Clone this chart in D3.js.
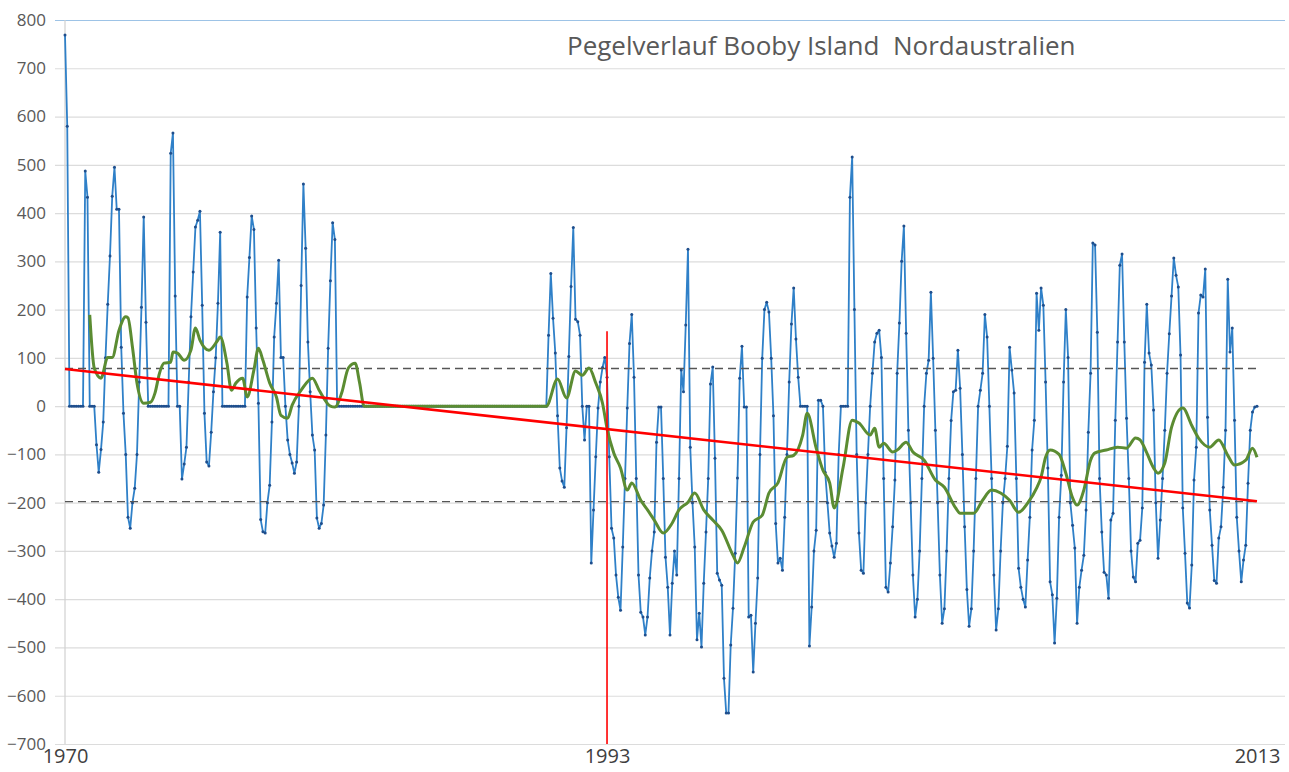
<!DOCTYPE html>
<html>
<head>
<meta charset="utf-8">
<script src="https://cdnjs.cloudflare.com/ajax/libs/d3/7.8.5/d3.min.js"></script>
<style>
  body { margin: 0; background: #fff; }
  svg text { font-family: "Open Sans", "DejaVu Sans", sans-serif; }
</style>
</head>
<body>
<div id="chart"></div>
<script>
// monthly gauge values (mm), one entry per month
// first block: 1970 series start
var leftMonths = [
  769,580,0,0,0,0,0,0,0,487,433,0,
  0,0,-80,-137,-90,-33,100,211,311,435,495,408,
  408,122,-15,-100,-230,-253,-200,-170,-100,50,205,392,
  174,0,0,0,0,0,0,0,0,0,0,524,
  566,228,0,0,-151,-120,-85,50,185,278,371,385,
  404,209,-15,-116,-124,-54,30,100,213,360,0,0,
  0,0,0,0,0,0,0,0,0,226,308,394,
  366,162,6,-235,-260,-263,-200,-164,-33,143,213,302,
  101,101,0,-70,-100,-118,-139,-116,0,250,460,327,
  133,30,-60,-91,-232,-253,-243,-205,-60,120,260,380,
  345,0
];

// no readings -> plotted as 0 by the source sheet
var gapMonths = [
  0,0,0,0,0,0,0,0,0,0,0,0,
  0,0,0,0,0,0,0,0,0,0,0,0,
  0,0,0,0,0,0,0,0,0,0,0,0,
  0,0,0,0,0,0,0,0,0,0,0,0,
  0,0,0,0,0,0,0,0,0,0,0,0,
  0,0,0,0,0,0,0,0,0,0,0,0,
  0,0,0,0,0,0,0,0,0,0,0,0,
  0,0,0,0,0,0,0,0
];

// second block: up to 2013
var rightMonths = [
  0,147,275,182,110,-20,-128,-155,-168,-45,103,248,
  370,180,175,147,0,-70,0,0,-325,-215,-105,-4,
  50,80,101,60,-105,-253,-273,-350,-396,-423,-292,-150,
  -4,130,190,60,-150,-350,-427,-437,-474,-437,-356,-300,
  -261,-75,-2,-2,-150,-313,-375,-474,-367,-300,-350,-150,
  75,30,168,325,-85,-200,-292,-484,-429,-499,-367,-261,
  -150,46,81,-108,-346,-360,-371,-564,-636,-636,-495,-419,
  -305,-149,58,124,-2,-2,-437,-433,-551,-450,-356,-100,
  99,200,215,195,99,-20,-243,-325,-315,-340,-230,-100,
  50,170,245,139,60,0,0,0,0,-497,-416,-300,
  -257,12,12,0,-137,-200,-263,-290,-313,-284,-100,0,
  0,0,0,433,516,200,-100,-263,-340,-346,-200,-100,
  0,68,133,151,157,101,-150,-375,-385,-325,-250,-153,
  68,172,300,373,151,-50,-200,-350,-437,-400,-300,-150,
  0,68,95,236,99,-50,-200,-350,-450,-420,-300,-150,
  -30,30,33,116,37,-100,-250,-380,-456,-420,-300,-150,
  0,33,68,190,143,0,-150,-350,-464,-420,-300,-200,
  -150,-83,122,75,27,-150,-336,-375,-400,-416,-319,-230,
  -91,-29,234,157,245,209,50,-128,-364,-391,-491,-398,
  -230,-143,50,200,101,-200,-247,-294,-450,-375,-340,-309,
  -215,-54,68,338,334,153,-150,-261,-344,-350,-398,-236,
  -222,-29,133,292,315,133,-25,-150,-300,-354,-364,-284,
  -278,-211,91,211,110,85,-8,-200,-315,-236,-150,-50,
  68,150,228,307,271,247,106,-211,-305,-408,-418,-329,
  -153,-85,193,230,226,284,-23,-215,-288,-361,-367,-273,
  -250,-168,-50,263,112,162,-29,-230,-300,-364,-319,-288,
  -160,-50,-12,-2,0
];

// running mean (green), [month index, value]
var smoothed = [
  [11,189],[13,79],[16,58],[19,101],[21,101],[24,157],[27,185],[28,183],[30,122],[32,48],
  [35,6],[38,8],[40,27],[42,68],[44,89],[47,91],[48,112],[50,110],[53,95],[56,116],
  [58,162],[60,137],[64,116],[68,137],[69,143],[72,89],[74,33],[76,48],[79,58],[81,19],
  [84,75],[86,120],[88,95],[91,48],[94,19],[96,-19],[99,-25],[101,2],[105,33],[110,58],
  [113,33],[118,0],[120,-2],[123,27],[126,79],[129,89],[131,48],[133,0],
  [214,0],[219,56],[223,17],[227,73],[230,64],[233,79],[236,48],[239,6],[241,-46],[244,-97],
  [247,-128],[250,-174],[252,-159],[256,-195],[259,-215],[262,-236],[266,-263],[270,-242],[273,-215],[277,-199],
  [280,-180],[284,-215],[288,-236],[292,-257],[297,-309],[299,-325],[302,-292],[306,-240],[310,-226],[313,-180],
  [317,-159],[321,-106],[324,-102],[328,-60],[330,-15],[334,-87],[337,-133],[340,-159],[342,-211],[346,-126],
  [350,-29],[353,-35],[358,-60],[360,-46],[362,-85],[364,-77],[368,-95],[370,-91],[374,-75],[377,-95],
  [382,-112],[387,-153],[391,-168],[396,-211],[398,-222],[404,-222],[408,-195],[412,-174],[416,-180],[420,-195],
  [424,-220],[428,-201],[432,-170],[434,-147],[436,-106],[438,-91],[442,-100],[445,-139],[448,-190],[450,-205],
  [453,-174],[456,-112],[458,-97],[463,-91],[468,-85],[472,-87],[476,-66],[478,-70],[481,-97],[484,-128],
  [486,-139],[489,-118],[492,-44],[497,-4],[501,-40],[504,-66],[509,-85],[513,-70],[517,-102],[520,-122],
  [525,-112],[528,-87],[530,-106]
];

var trend = [77, -197];          // linear trend, first / last month
var refLevels = [78, -198];      // dashed guide levels
var marker = { index: 241, top: 155 };   // vertical line at 1993
var xLabels = [
  { label: '1970', index: 0 },
  { label: '1993', index: 241 },
  { label: '2013', index: 530 }
];
var yTicks = [-700,-600,-500,-400,-300,-200,-100,0,100,200,300,400,500,600,700,800];
var title = 'Pegelverlauf Booby Island\u00a0\u00a0Nordaustralien';

var months = leftMonths.concat(gapMonths, rightMonths);

var width = 1289, height = 772;
var plot = { left: 65, right: 1285, top: 20, bottom: 744, dataEnd: 1257 };

var svg = d3.select('#chart').append('svg')
  .attr('width', width)
  .attr('height', height);

svg.append('rect').attr('width', width).attr('height', height).attr('fill', '#fff');

var x = d3.scaleLinear()
  .domain([0, months.length - 1])
  .range([plot.left, plot.dataEnd]);

var y = d3.scaleLinear()
  .domain([-700, 800])
  .range([plot.bottom, plot.top]);

// grid + y axis
var yAxis = d3.axisLeft(y)
  .tickValues(yTicks)
  .tickSize(-(plot.right - plot.left) - 10)
  .tickPadding(9)
  .tickFormat(d3.format('d'));

var gy = svg.append('g')
  .attr('transform', 'translate(' + (plot.left - 10) + ',0)')
  .call(yAxis);
gy.select('.domain').remove();
gy.selectAll('.tick line')
  .attr('stroke', function(d){ return d === 800 ? '#9dc3e6' : '#dcdcdc'; })
  .attr('stroke-width', 1.2);
gy.selectAll('.tick text')
  .attr('fill', '#595959')
  .attr('font-size', 17);

// left axis line
svg.append('line')
  .attr('x1', plot.left).attr('x2', plot.left)
  .attr('y1', plot.top).attr('y2', plot.bottom)
  .attr('stroke', '#d0d0d0').attr('stroke-width', 1.2);

// x labels
var xAxis = d3.axisBottom(x)
  .tickValues(xLabels.map(function(d){ return d.index; }))
  .tickSize(0)
  .tickPadding(5)
  .tickFormat(function(d){
    return xLabels.filter(function(l){ return l.index === d; })[0].label;
  });
var gx = svg.append('g')
  .attr('transform', 'translate(0,' + plot.bottom + ')')
  .call(xAxis);
gx.select('.domain').remove();
gx.selectAll('.tick text')
  .attr('fill', '#404040')
  .attr('font-size', 20);

// blue monthly series
var line = d3.line()
  .x(function(d, i){ return x(i); })
  .y(function(d){ return y(d); });

svg.append('path')
  .datum(months)
  .attr('fill', 'none')
  .attr('stroke', '#2f80c8')
  .attr('stroke-width', 1.8)
  .attr('stroke-linejoin', 'round')
  .attr('d', line);

svg.append('g').selectAll('circle')
  .data(months)
  .join('circle')
  .attr('cx', function(d, i){ return x(i); })
  .attr('cy', function(d){ return y(d); })
  .attr('r', 1.5)
  .attr('fill', '#1f4e8c');

// dashed guide levels
svg.append('g').selectAll('line')
  .data(refLevels)
  .join('line')
  .attr('x1', plot.left).attr('x2', plot.dataEnd + 2)
  .attr('y1', function(d){ return y(d); })
  .attr('y2', function(d){ return y(d); })
  .attr('stroke', '#555')
  .attr('stroke-width', 1.3)
  .attr('stroke-dasharray', '8,5');

// running mean
var smoothLine = d3.line()
  .x(function(d){ return x(d[0]); })
  .y(function(d){ return y(d[1]); })
  .curve(d3.curveMonotoneX);

svg.append('path')
  .datum(smoothed)
  .attr('fill', 'none')
  .attr('stroke', '#5b8c32')
  .attr('stroke-width', 3)
  .attr('stroke-linejoin', 'round')
  .attr('d', smoothLine);

// trend
svg.append('line')
  .attr('x1', x(0)).attr('x2', x(months.length - 1))
  .attr('y1', y(trend[0])).attr('y2', y(trend[1]))
  .attr('stroke', '#ff0000')
  .attr('stroke-width', 2.6);

// 1993 marker
svg.append('line')
  .attr('x1', x(marker.index)).attr('x2', x(marker.index))
  .attr('y1', y(-700)).attr('y2', y(marker.top))
  .attr('stroke', '#ff0000')
  .attr('stroke-width', 1.6);

// title
svg.append('text')
  .attr('x', 567)
  .attr('y', 55)
  .attr('fill', '#595959')
  .attr('font-size', 26)
  .text(title);
</script>
</body>
</html>
